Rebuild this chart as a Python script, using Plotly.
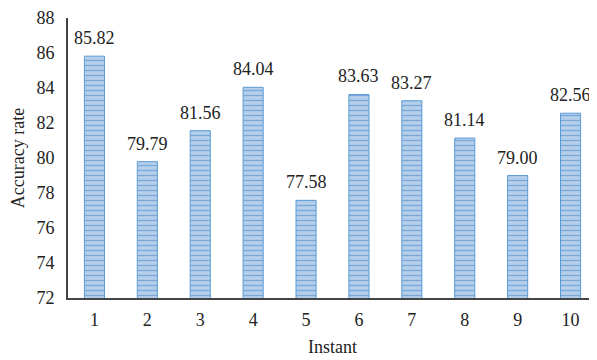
import plotly.graph_objects as go

instants = [1, 2, 3, 4, 5, 6, 7, 8, 9, 10]
accuracy = [85.82, 79.79, 81.56, 84.04, 77.58, 83.63, 83.27, 81.14, 79.00, 82.56]
labels = [f"{v:.2f}" for v in accuracy]
yticks = [72, 74, 76, 78, 80, 82, 84, 86, 88]

fig = go.Figure(go.Bar(
    x=instants, y=accuracy,
    width=0.38,
    marker=dict(
        color="#b3cfeb",
        line=dict(color="#5b9bd5", width=1),
        pattern=dict(shape="-", fgcolor="#3f7fc6", bgcolor="#b3cfeb", size=5, solidity=0.25),
    ),
    hoverinfo="x+y",
))

for xi, yi, lab in zip(instants, accuracy, labels):
    fig.add_annotation(x=xi, y=yi, text=lab, showarrow=False, yanchor="bottom",
                       yshift=6, font=dict(family="Liberation Serif", size=18, color="#222"))

fig.update_layout(
    width=597, height=360,
    margin=dict(l=60, r=8, t=10, b=70),
    plot_bgcolor="white", paper_bgcolor="white",
    font=dict(family="Liberation Serif", size=18, color="#222"),
    showlegend=False,
    xaxis=dict(
        range=[0.5, 10.5], tickvals=instants, ticktext=[str(i) for i in instants],
        showline=True, linecolor="#444444", linewidth=2,
        ticks="outside", ticklen=4, tickcolor="white", showgrid=False,
        title=dict(text="Instant", font=dict(size=18), standoff=12),
        automargin=False,
    ),
    yaxis=dict(
        range=[72, 88], tickvals=yticks, ticktext=[str(v) for v in yticks],
        showline=True, linecolor="#444444", linewidth=2,
        ticks="outside", ticklen=8, tickcolor="white", showgrid=False, zeroline=False,
        title=dict(text="Accuracy rate", font=dict(size=18), standoff=12),
        automargin=False,
    ),
)
fig.write_html("out.html")
